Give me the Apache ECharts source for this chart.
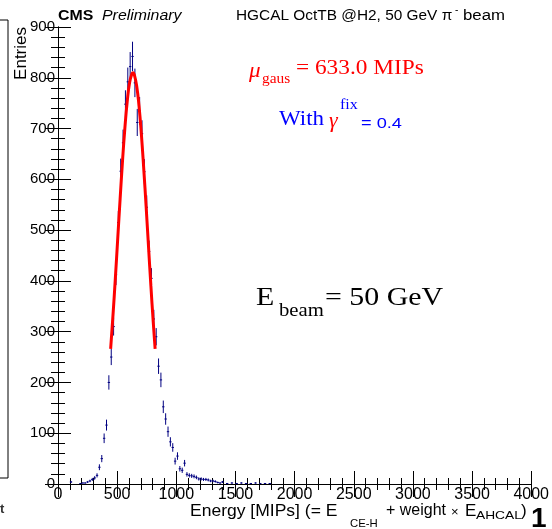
<!DOCTYPE html>
<html>
<head>
<meta charset="utf-8">
<script src="https://cdn.jsdelivr.net/npm/echarts@6/dist/echarts.min.js"></script>
<style>
html,body{margin:0;padding:0;background:#fff;}
#chart{width:552px;height:529px;}
</style>
</head>
<body>
<div id="chart"></div>
<script>
// Histogram bin centres (MIPs) and entries
const binCenters = [110,190,210,230,250,270,290,310,330,350,370,390,410,430,450,470,490,510,530,550,570,590,610,630,650,670,690,710,730,750,770,790,810,830,850,870,890,910,930,950,970,990,1010,1030,1050,1070,1090,1110,1130,1150,1170,1190,1210,1230,1250,1270,1290,1310,1330,1350,1370,1390,1430,1470,1510,1550,1590,1630,1670,1710,1750,1790];
const counts =     [4,1,2,2,4,6,9,12,17,33,50,90,116,200,250,310,412,515,616,672,748,792,822,842,790,712,735,690,615,545,458,405,325,290,232,205,152,128,103,83,72,45,55,30,27,41,19,17,16,15,13,10,10,9,9,8,6,6,5,3,2,4,1,2,1,2,1,1,2,1,1,1];
const binHalfWidth = 10;
// Gaussian fit curve
const fitX = [445,465,485,505,525,545,565,585,605,625,635,645,665,685,705,725,745,765,785,805,821];
const fitY = [266,333,406,484,561,635,700,753,790,808,810,806,784,744,688,620,546,468,391,319,266];
// Axis ticks
const xTicks = {min:0, max:4000, interval:500};
const yTicks = {min:0, max:900, interval:100};

const chart = echarts.init(document.getElementById('chart'), null, {renderer:'canvas'});
const SANS = '"Liberation Sans", Arial, Helvetica, sans-serif';
const SERIF = '"Liberation Serif", "Times New Roman", serif';
const points = binCenters.map((x,i)=>[x,counts[i]]);
const fitData = fitX.map((x,i)=>[x,fitY[i]]);

function renderErr(params, api){
  const x = api.value(0), y = api.value(1), e = Math.sqrt(y);
  const l = api.coord([x-binHalfWidth, y]), r = api.coord([x+binHalfWidth, y]);
  const t = api.coord([x, y+e]), b = api.coord([x, Math.max(0, y-e)]);
  const st = {stroke:'#000080', lineWidth:1};
  return {type:'group', children:[
    {type:'line', shape:{x1:l[0],y1:l[1],x2:r[0],y2:r[1]}, style:st},
    {type:'line', shape:{x1:t[0],y1:t[1],x2:b[0],y2:b[1]}, style:st}
  ]};
}

function txt(text, x, y, font, fill, sx, extra){
  return {type:'text', x:x, y:y, scaleX:sx||1, style:Object.assign({text:text, x:0, y:0, font:font, fill:fill||'#000', textVerticalAlign:'middle'}, extra||{})};
}

const axisCommon = {
  axisLine:{show:true, lineStyle:{color:'#000', width:1}},
  splitLine:{show:false},
  minorSplitLine:{show:false}
};

chart.setOption({
  animation:false,
  backgroundColor:'#fff',
  grid:{left:58, right:19, top:27, bottom:45},
  xAxis:[
    Object.assign({type:'value', min:xTicks.min, max:xTicks.max, interval:xTicks.interval, position:'bottom',
      axisTick:{show:true, inside:true, length:13, lineStyle:{color:'#000'}},
      minorTick:{show:true, splitNumber:5, length:6, lineStyle:{color:'#000'}},
      axisLabel:{show:true, color:'#000', fontSize:16, fontFamily:SANS, margin:3, showMaxLabel:true, showMinLabel:true,
        formatter:(v)=>String(v)}
    }, axisCommon),
    Object.assign({type:'value', min:xTicks.min, max:xTicks.max, interval:xTicks.interval, position:'top',
      axisTick:{show:true, inside:true, length:13, lineStyle:{color:'#000'}},
      minorTick:{show:true, splitNumber:5, length:6, lineStyle:{color:'#000'}},
      axisLabel:{show:false}
    }, axisCommon)
  ],
  yAxis:[
    Object.assign({type:'value', min:yTicks.min, max:yTicks.max, interval:yTicks.interval, position:'left',
      axisTick:{show:true, inside:true, length:13, lineStyle:{color:'#000'}},
      minorTick:{show:true, splitNumber:5, length:7, lineStyle:{color:'#000'}},
      axisLabel:{show:true, color:'#000', fontSize:15, fontFamily:SANS, margin:3, showMaxLabel:true,
        formatter:(v)=>String(v)}
    }, axisCommon),
    Object.assign({type:'value', min:yTicks.min, max:yTicks.max, interval:yTicks.interval, position:'right',
      axisTick:{show:true, inside:true, length:13, lineStyle:{color:'#000'}},
      minorTick:{show:true, splitNumber:5, length:7, lineStyle:{color:'#000'}},
      axisLabel:{show:false}
    }, axisCommon)
  ],
  series:[
    {type:'custom', xAxisIndex:0, yAxisIndex:0, renderItem:renderErr, data:points, clip:true, z:3},
    {type:'line', xAxisIndex:0, yAxisIndex:0, data:fitData, smooth:true, showSymbol:false, symbol:'none',
     lineStyle:{color:'#ff0000', width:3}, z:4}
  ],
  graphic:[
    // neighbouring panel remnants
    {type:'rect', shape:{x:-20, y:20, width:28, height:458}, style:{fill:null, stroke:'#000', lineWidth:1}},
    txt('t', 0, 509, 'bold 13px '+SANS, '#333'),
    txt('1', 531, 519, 'bold 28px '+SANS, '#000'),
    // header
    txt('CMS', 58, 16, 'bold 15px '+SANS, '#000', 1.06),
    txt('Preliminary', 102, 16, 'italic 15px '+SANS, '#000', 1.06),
    txt('HGCAL OctTB @H2, 50 GeV π', 236, 16, '14px '+SANS, '#000', 1.1),
    txt('-', 455, 10, '10px '+SANS, '#000'),
    txt('beam', 463, 16, '14px '+SANS, '#000', 1.2),
    // y title
    {type:'text', x:21, y:27, rotation:Math.PI/2, style:{text:'Entries', font:'17px '+SANS, fill:'#000', textAlign:'right', textVerticalAlign:'middle'}},
    // x title
    txt('Energy [MIPs] (= E', 190, 511, '17px '+SANS, '#000', 1.03),
    txt('CE-H', 350, 524, '11px '+SANS, '#000', 1.03),
    txt('+ weight', 386, 511, '16px '+SANS, '#000', 1.0),
    txt('×', 451, 512, '13px '+SANS, '#000'),
    txt('E', 465, 511, '17px '+SANS, '#000'),
    txt('AHCAL', 476, 516, '11px '+SANS, '#000', 1.25),
    txt(')', 521, 511, '17px '+SANS, '#000'),
    // mu annotation
    txt('μ', 249, 71, 'italic 21px '+SERIF, '#ff0000', 1.1),
    txt('gaus', 262, 79, '14px '+SERIF, '#ff0000', 1.1),
    txt('= 633.0 MIPs', 296, 69, '20px '+SERIF, '#ff0000', 1.165),
    // gamma annotation
    txt('With', 279, 120, '20px '+SERIF, '#0000ff', 1.15),
    txt('γ', 329, 122, 'italic 20px '+SERIF, '#ff0000', 1.1),
    txt('fix', 340, 105, '14px '+SERIF, '#0000ff', 1.15),
    txt('= 0.4', 361, 124, '14px '+SANS, '#0000ff', 1.3),
    // beam energy
    txt('E', 256, 298, '26px '+SERIF, '#000', 1.15),
    txt('beam', 279, 311, '18px '+SERIF, '#000', 1.15),
    txt('= 50 GeV', 325, 298, '26px '+SERIF, '#000', 1.15)
  ]
});
</script>
</body>
</html>
